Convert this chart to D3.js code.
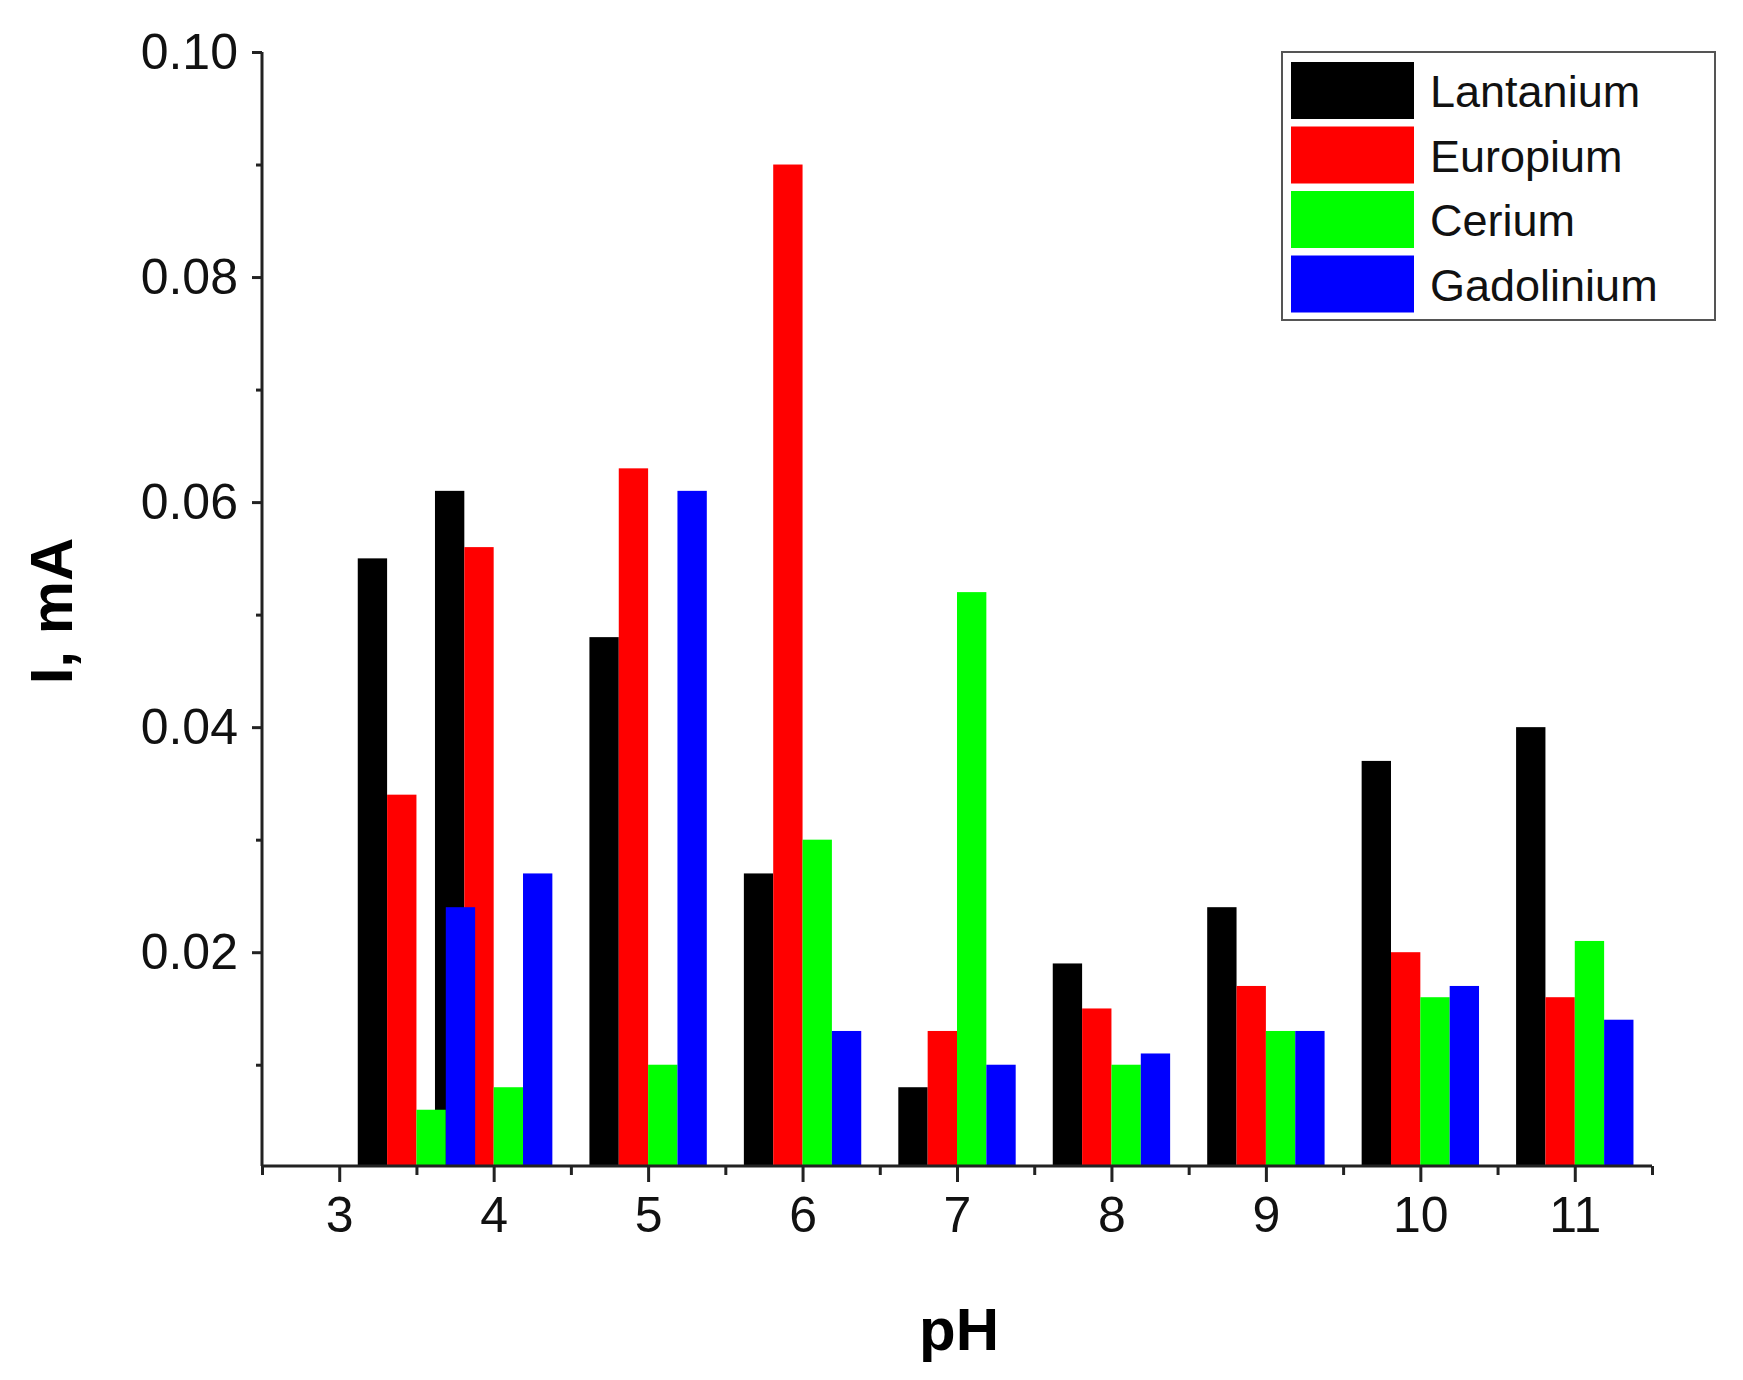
<!DOCTYPE html>
<html>
<head>
<meta charset="utf-8">
<script src="https://cdn.jsdelivr.net/npm/d3@7"></script>
<style>
  body { margin: 0; background: #fff; }
  text { font-family: "Liberation Sans", Arial, sans-serif; }
</style>
</head>
<body>
<div id="chart"></div>
<script>
// data
var phValues = [3.5, 4, 5, 6, 7, 8, 9, 10, 11];
var seriesNames = ["Lantanium", "Europium", "Cerium", "Gadolinium"];
var seriesColors = ["#000000", "#ff0000", "#00ff00", "#0000ff"];
var lantanium  = [0.055, 0.061, 0.048, 0.027, 0.008, 0.019, 0.024, 0.037, 0.040];
var europium   = [0.034, 0.056, 0.063, 0.090, 0.013, 0.015, 0.017, 0.020, 0.016];
var cerium     = [0.006, 0.008, 0.010, 0.030, 0.052, 0.010, 0.013, 0.016, 0.021];
var gadolinium = [0.024, 0.027, 0.061, 0.013, 0.010, 0.011, 0.013, 0.017, 0.014];
var xTicks = [3, 4, 5, 6, 7, 8, 9, 10, 11];
var yTicks = [0.02, 0.04, 0.06, 0.08, 0.10];

var allSeries = [lantanium, europium, cerium, gadolinium];

var width = 1743, height = 1380;
var margin = {top: 52, left: 262, right: 91, bottom: 214};

var svg = d3.select("#chart").append("svg")
    .attr("width", width)
    .attr("height", height);

var x = d3.scaleLinear().domain([2.5, 11.5]).range([margin.left, width - margin.right]);
var y = d3.scaleLinear().domain([0.001, 0.1]).range([height - margin.bottom, margin.top]);

var barW = 0.19; // in pH units
var offsets = [-1.5, -0.5, 0.5, 1.5];

// bars, one series at a time so later series sit on top
allSeries.forEach(function(vals, si){
    svg.append("g").selectAll("rect")
        .data(vals)
        .enter()
        .append("rect")
        .attr("x", function(d, i){ return x(phValues[i] + offsets[si] * barW - barW / 2); })
        .attr("width", x(barW) - x(0))
        .attr("y", function(d){ return y(d); })
        .attr("height", function(d){ return y(0.001) - y(d); })
        .attr("fill", seriesColors[si]);
});

// x axis
var xAxis = d3.axisBottom(x).tickValues(xTicks).tickSize(16).tickPadding(14).tickFormat(d3.format("d"));
var gx = svg.append("g").attr("transform", "translate(0," + y(0.001) + ")").call(xAxis);
var gxMinor = svg.append("g").attr("transform", "translate(0," + y(0.001) + ")")
    .call(d3.axisBottom(x).tickValues(d3.range(2.5, 11.6, 1)).tickSize(9).tickFormat(""));
gxMinor.select(".domain").remove();

// y axis
var yAxis = d3.axisLeft(y).tickValues(yTicks).tickSize(10).tickPadding(14).tickFormat(d3.format(".2f"));
var gy = svg.append("g").attr("transform", "translate(" + margin.left + ",0)").call(yAxis);
var gyMinor = svg.append("g").attr("transform", "translate(" + margin.left + ",0)")
    .call(d3.axisLeft(y).tickValues([0.01, 0.03, 0.05, 0.07, 0.09]).tickSize(6).tickFormat(""));
gyMinor.select(".domain").remove();

[gx, gy, gxMinor, gyMinor].forEach(function(g){
    g.selectAll("line").attr("stroke-width", 3).attr("stroke", "#222");
    g.select(".domain").attr("stroke-width", 3).attr("stroke", "#222");
    g.selectAll("text").attr("font-size", 50).attr("fill", "#111")
        .style("font-family", "'Liberation Sans', Arial, sans-serif");
});
gx.select(".domain").attr("d", "M" + margin.left + ",0H" + (width - margin.right));
gy.select(".domain").attr("d", "M0," + y(0.001) + "V" + margin.top);

// axis titles
svg.append("text")
    .attr("x", (margin.left + width - margin.right) / 2 + 2)
    .attr("y", 1350)
    .attr("text-anchor", "middle")
    .attr("font-size", 60).attr("font-weight", "bold")
    .text("pH");
svg.append("text")
    .attr("transform", "translate(72,611) rotate(-90)")
    .attr("text-anchor", "middle")
    .attr("font-size", 60).attr("font-weight", "bold")
    .text("I, mA");

// legend
var legend = svg.append("g").attr("transform", "translate(1282,52)");
legend.append("rect")
    .attr("width", 433).attr("height", 268)
    .attr("fill", "#fff").attr("stroke", "#555").attr("stroke-width", 2);
seriesNames.forEach(function(name, i){
    legend.append("rect")
        .attr("x", 9).attr("y", 10 + i * 64.5)
        .attr("width", 123).attr("height", 57)
        .attr("fill", seriesColors[i]);
    legend.append("text")
        .attr("x", 148).attr("y", 55 + i * 64.5)
        .attr("font-size", 45).attr("fill", "#111")
        .text(name);
});
</script>
</body>
</html>
